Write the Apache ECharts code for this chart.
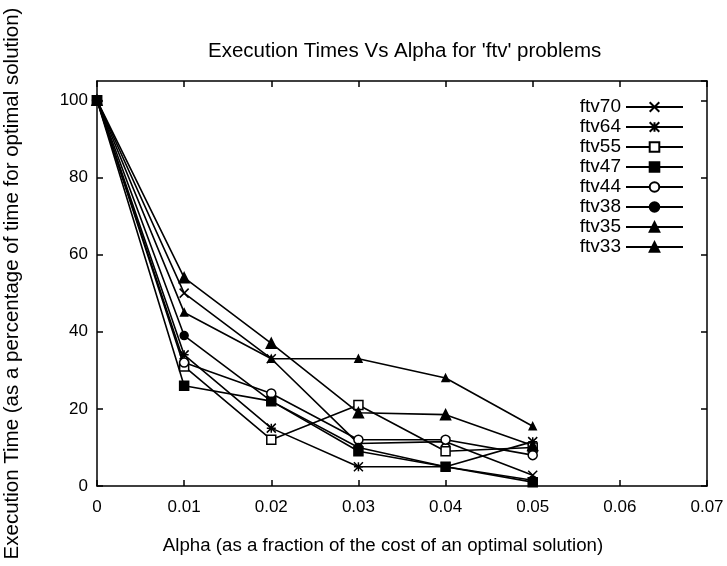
<!DOCTYPE html>
<html>
<head>
<meta charset="utf-8">
<script src="https://cdn.jsdelivr.net/npm/echarts@6/dist/echarts.min.js"></script>
<style>html,body{margin:0;padding:0;background:#fff}#c{width:727px;height:566px}</style>
</head>
<body>
<div id="c"></div>
<script>
var alphas = [0, 0.01, 0.02, 0.03, 0.04, 0.05];
var ftv70 = [100, 50, 33, 11, 11.5, 2.8];
var ftv64 = [100, 34, 15, 5, 5, 11.5];
var ftv55 = [100, 31, 12, 21, 9, 10];
var ftv47 = [100, 26, 22, 9, 5, 1];
var ftv44 = [100, 32, 24, 12, 12, 8];
var ftv38 = [100, 39, 22, 10, 5, 1.5];
var ftv35 = [100, 54, 37, 19, 18.5, 10.5];
var ftv33 = [100, 45, 33, 33, 28, 15.5];
var names = ['ftv70','ftv64','ftv55','ftv47','ftv44','ftv38','ftv35','ftv33'];
var values = [ftv70, ftv64, ftv55, ftv47, ftv44, ftv38, ftv35, ftv33];
var xTicks = ['0','0.01','0.02','0.03','0.04','0.05','0.06','0.07'];

var F = 'Liberation Sans, Arial, Helvetica, sans-serif';
var symbols = [
  {s:'path://M0,0L10,10M10,0L0,10', size:9, fill:'none'},
  {s:'path://M0,0L10,10M10,0L0,10M0,5L10,5M5,0L5,10', size:9, fill:'none'},
  {s:'rect', size:9, fill:'#fff'},
  {s:'rect', size:9, fill:'#000'},
  {s:'circle', size:9, fill:'#fff'},
  {s:'circle', size:8, fill:'#000'},
  {s:'triangle', size:10, fill:'#000'},
  {s:'triangle', size:7, fill:'#000'}
];

var series = names.map(function(n, i){
  return {
    name: n,
    type: 'line',
    data: alphas.map(function(a, j){ return [a, values[i][j]]; }),
    symbol: symbols[i].s,
    symbolSize: symbols[i].size,
    showAllSymbol: true,
    lineStyle: {color:'#000', width:1.6},
    itemStyle: {color: symbols[i].fill, borderColor:'#000', borderWidth:1.5},
    emphasis: {disabled:true},
    animation: false
  };
});

var chart = echarts.init(document.getElementById('c'), null, {renderer:'canvas'});
var tickStyle = {show:true, inside:true, length:6, lineStyle:{color:'#000', width:1.5}};
chart.setOption({
  backgroundColor:'#fff',
  animation:false,
  title: {
    text: "Execution Times Vs Alpha for 'ftv' problems",
    left: 203, top: 36,
    textStyle: {fontFamily:F, fontSize:20.5, fontWeight:'normal', color:'#000'}
  },
  legend: {
    data: names,
    right: 38, top: 92,
    orient: 'vertical',
    align: 'right',
    itemWidth: 57, itemHeight: 12, itemGap: 0,
    textStyle: {fontFamily:F, fontSize:19, color:'#000', lineHeight:20},
    inactiveColor:'#000'
  },
  grid: {left:97, right:20, top:81, bottom:80, containLabel:false, outerBoundsMode:'none'},
  xAxis: [{
    type:'value', min:0, max:0.07, interval:0.01,
    axisLine:{show:true, onZero:false, lineStyle:{color:'#000', width:1.5}},
    axisTick: tickStyle,
    splitLine:{show:false},
    axisLabel:{fontFamily:F, fontSize:17, color:'#000', margin:13,
      formatter:function(v){ return xTicks[Math.round(v*100)]; }},
    name:'Alpha (as a fraction of the cost of an optimal solution)',
    nameLocation:'middle', nameGap:50,
    nameTextStyle:{fontFamily:F, fontSize:18.7, color:'#000', padding:[0,38,0,0]}
  },{
    type:'value', position:'top', min:0, max:0.07, interval:0.01,
    axisLine:{show:true, onZero:false, lineStyle:{color:'#000', width:1.5}},
    axisTick: tickStyle, axisLabel:{show:false}, splitLine:{show:false}
  }],
  yAxis: [{
    type:'value', min:0, max:105, interval:20,
    axisLine:{show:true, onZero:false, lineStyle:{color:'#000', width:1.5}},
    axisTick: tickStyle,
    splitLine:{show:false},
    axisLabel:{fontFamily:F, fontSize:17, color:'#000', margin:9, showMaxLabel:false},
    name:'Execution Time (as a percentage of time for optimal solution)',
    nameLocation:'middle', nameGap:74,
    nameTextStyle:{fontFamily:F, fontSize:20.5, color:'#000'}
  },{
    type:'value', position:'right', min:0, max:105, interval:20,
    axisLine:{show:true, onZero:false, lineStyle:{color:'#000', width:1.5}},
    axisTick: tickStyle, axisLabel:{show:false}, splitLine:{show:false}
  }],
  series: series
});
</script>
</body>
</html>
